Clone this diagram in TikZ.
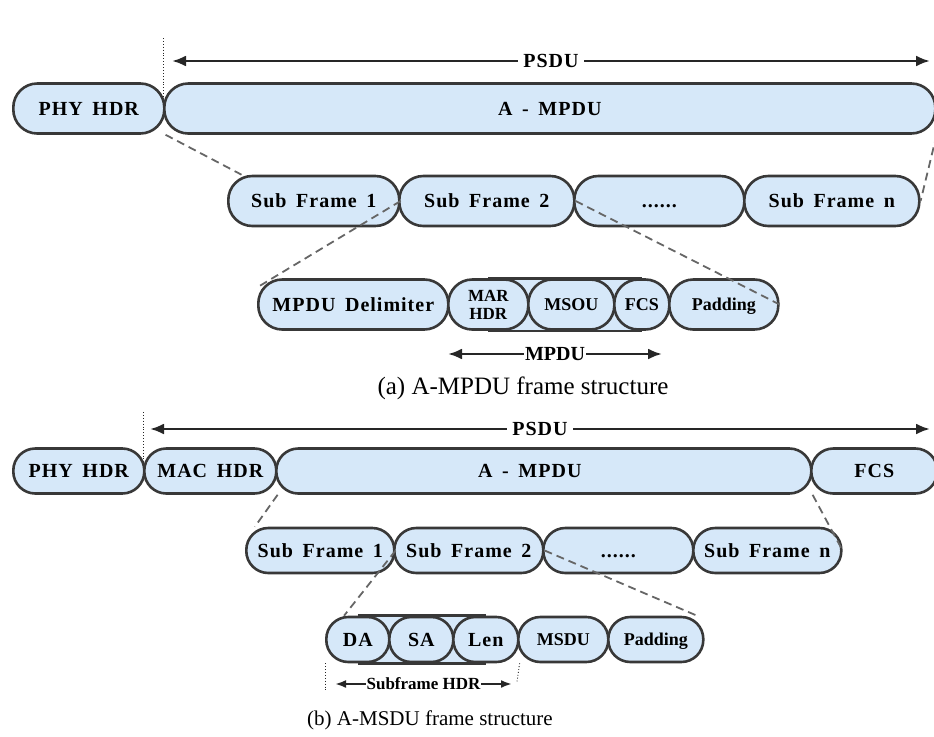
\documentclass[tikz,border=0pt]{standalone}
\usepackage{fontspec}
\setmainfont{Liberation Serif}
\newfontfamily\spacedfont[LetterSpace=5,WordSpace=1.6]{Liberation Serif}
\usetikzlibrary{arrows.meta,backgrounds}
\definecolor{frameink}{HTML}{262626}
\definecolor{frameline}{HTML}{383838}
\definecolor{framefill}{HTML}{D6E8F9}
\definecolor{framedash}{HTML}{666666}

\begin{document}
\begin{tikzpicture}[
  x=1pt, y=-1pt,
  seg/.style={draw=frameline, fill=framefill, line width=2.6pt, inner sep=0pt, align=center, text depth=0pt},
  segtall/.style={seg, minimum height=50pt, rounded corners=24pt},
  segshort/.style={seg, minimum height=45pt, rounded corners=22pt},
  lblwide/.style={font=\spacedfont\bfseries\fontsize{20}{23}\selectfont, text height=13.5pt},
  lbltight/.style={font=\bfseries\fontsize{18}{18}\selectfont, text height=12pt},
  spanarrow/.style={draw=frameink, line width=2.6pt, {Latex[length=14pt,width=11pt]}-{Latex[length=14pt,width=11pt]}},
  spanarrowsmall/.style={draw=frameink, line width=2.2pt, {Latex[length=11pt,width=8pt]}-{Latex[length=11pt,width=8pt]}},
  zoomline/.style={draw=framedash, line width=1.8pt, dash pattern=on 8pt off 5pt},
  guideline/.style={draw=frameink, line width=0.9pt, dotted},
  bandline/.style={draw=frameline, line width=2.6pt},
]
\useasboundingbox (0,0) rectangle (934,736);

% ===== (a) A-MPDU: top row =====
\node[segtall, lblwide, anchor=west, minimum width=151pt] (phyA) at (12,108.5) {PHY HDR};
\node[segtall, lblwide, anchor=west, minimum width=771pt] (ampA) at (163,108.5) {A - MPDU};

\coordinate (guideA) at (163,38);
\coordinate (psduAl) at (172,61);
\coordinate (psduAr) at (930,61);
\draw[spanarrow] (psduAl) -- (psduAr) node[midway, lblwide, fill=white, inner sep=5pt] (psduA) {PSDU};

% ===== (a) sub frames =====
\node[segtall, lblwide, anchor=west, minimum width=171pt] (sf1A) at (227,201) {Sub Frame 1};
\node[segtall, lblwide, anchor=west, minimum width=175pt] (sf2A) at (398,201) {Sub Frame 2};
\node[segtall, lblwide, anchor=west, minimum width=170pt] (dotsA) at (573,201) {......};
\node[segtall, lblwide, anchor=west, minimum width=175pt] (sfnA) at (743,201) {Sub Frame n};

% ===== (a) one sub frame =====
\node[segtall, lblwide, anchor=west, minimum width=190pt] (delA) at (257,304.5) {MPDU Delimiter};
\node[segtall, anchor=west, minimum width=80pt, font=\bfseries\fontsize{17}{18}\selectfont] (marA) at (447,304.5) {MAR\\HDR};
\node[segtall, lbltight, anchor=west, minimum width=86pt] (msouA) at (527,304.5) {MSOU};
\node[segtall, lbltight, anchor=west, minimum width=55pt] (fcsA) at (613,304.5) {FCS};
\node[segtall, lbltight, anchor=west, minimum width=109pt] (padA) at (668,304.5) {Padding};

\coordinate (mpduL) at (448,354);
\coordinate (mpduR) at (662,354);
\draw[spanarrow] (mpduL) -- (mpduR) node[midway, font=\bfseries\fontsize{20}{22}\selectfont, fill=white, inner sep=1pt] (mpduA) {MPDU};

\node[font=\fontsize{25}{28}\selectfont] (capA) at (523,388) {(a) A-MPDU frame structure};

% zoom lines
\draw[zoomline] (phyA.south east) -- (sf1A.160);
\draw[zoomline] (ampA.south east) -- (sfnA.east);
\draw[zoomline] (sf1A.east) -- (delA.170);
\draw[zoomline] (sf2A.east) -- (padA.east);

% ===== (b) A-MSDU: top row =====
\node[segshort, lblwide, anchor=west, minimum width=131pt] (phyB) at (12,471) {PHY HDR};
\node[segshort, lblwide, anchor=west, minimum width=132pt] (macB) at (143,471) {MAC HDR};
\node[segshort, lblwide, anchor=west, minimum width=535pt] (ampB) at (275,471) {A - MPDU\hspace*{28pt}};
\node[segshort, lblwide, anchor=west, minimum width=126pt] (fcsB) at (810,471) {FCS};

\coordinate (guideB) at (143,412);
\coordinate (psduBl) at (150,429);
\coordinate (psduBr) at (930,429);
\draw[spanarrow] (psduBl) -- (psduBr) node[midway, lblwide, fill=white, inner sep=5pt] (psduB) {PSDU};

% ===== (b) sub frames =====
\node[segshort, lblwide, anchor=west, minimum width=148pt] (sf1B) at (245,550.5) {Sub Frame 1};
\node[segshort, lblwide, anchor=west, minimum width=149pt] (sf2B) at (393,550.5) {Sub Frame 2};
\node[segshort, lblwide, anchor=west, minimum width=150pt] (dotsB) at (542,550.5) {......};
\node[segshort, lblwide, anchor=west, minimum width=148pt] (sfnB) at (692,550.5) {Sub Frame n};

% ===== (b) one sub frame =====
\node[segshort, lblwide, anchor=west, minimum width=63pt] (daB) at (325,639.5) {DA};
\node[segshort, lblwide, anchor=west, minimum width=64pt] (saB) at (388,639.5) {SA};
\node[segshort, lblwide, anchor=west, minimum width=65pt] (lenB) at (452,639.5) {Len};
\node[segshort, lbltight, anchor=west, minimum width=90pt] (msduB) at (517,639.5) {MSDU};
\node[segshort, lbltight, anchor=west, minimum width=95pt] (padB) at (607,639.5) {Padding};

\coordinate (hdrL) at (335,684);
\coordinate (hdrR) at (512,684);
\coordinate (guideDa) at (325,692);
\coordinate (guideLen) at (517,682);
\draw[guideline] (daB.south west) -- (guideDa);
\draw[guideline] (lenB.south east) -- (guideLen);
\draw[spanarrowsmall] (hdrL) -- (hdrR) node[midway, font=\bfseries\fontsize{17}{20}\selectfont, fill=white, inner sep=1pt] (hdrB) {Subframe HDR};

\node[font=\fontsize{21}{24}\selectfont] (capB) at (430,720) {(b) A-MSDU frame structure};

% zoom lines
\draw[zoomline] (macB.south east) -- (sf1B.160);
\draw[zoomline] (ampB.south east) -- (sfnB.east);
\draw[zoomline] (sf1B.east) -- (daB.120);
\draw[zoomline] (sf2B.east) -- (padB.30);

% ===== bands and guides behind the segments =====
\begin{pgfonlayer}{background}
  \fill[framefill] (marA.north) rectangle (fcsA.south);
  \draw[bandline] (marA.north) -- (fcsA.north) (marA.south) -- (fcsA.south);
  \fill[framefill] (daB.north) rectangle (lenB.south);
  \draw[bandline] (daB.north) -- (lenB.north) (daB.south) -- (lenB.south);
  \draw[guideline] (guideA) -- (ampA.west);
  \draw[guideline] (guideB) -- (macB.west);
\end{pgfonlayer}

\end{tikzpicture}
\end{document}
